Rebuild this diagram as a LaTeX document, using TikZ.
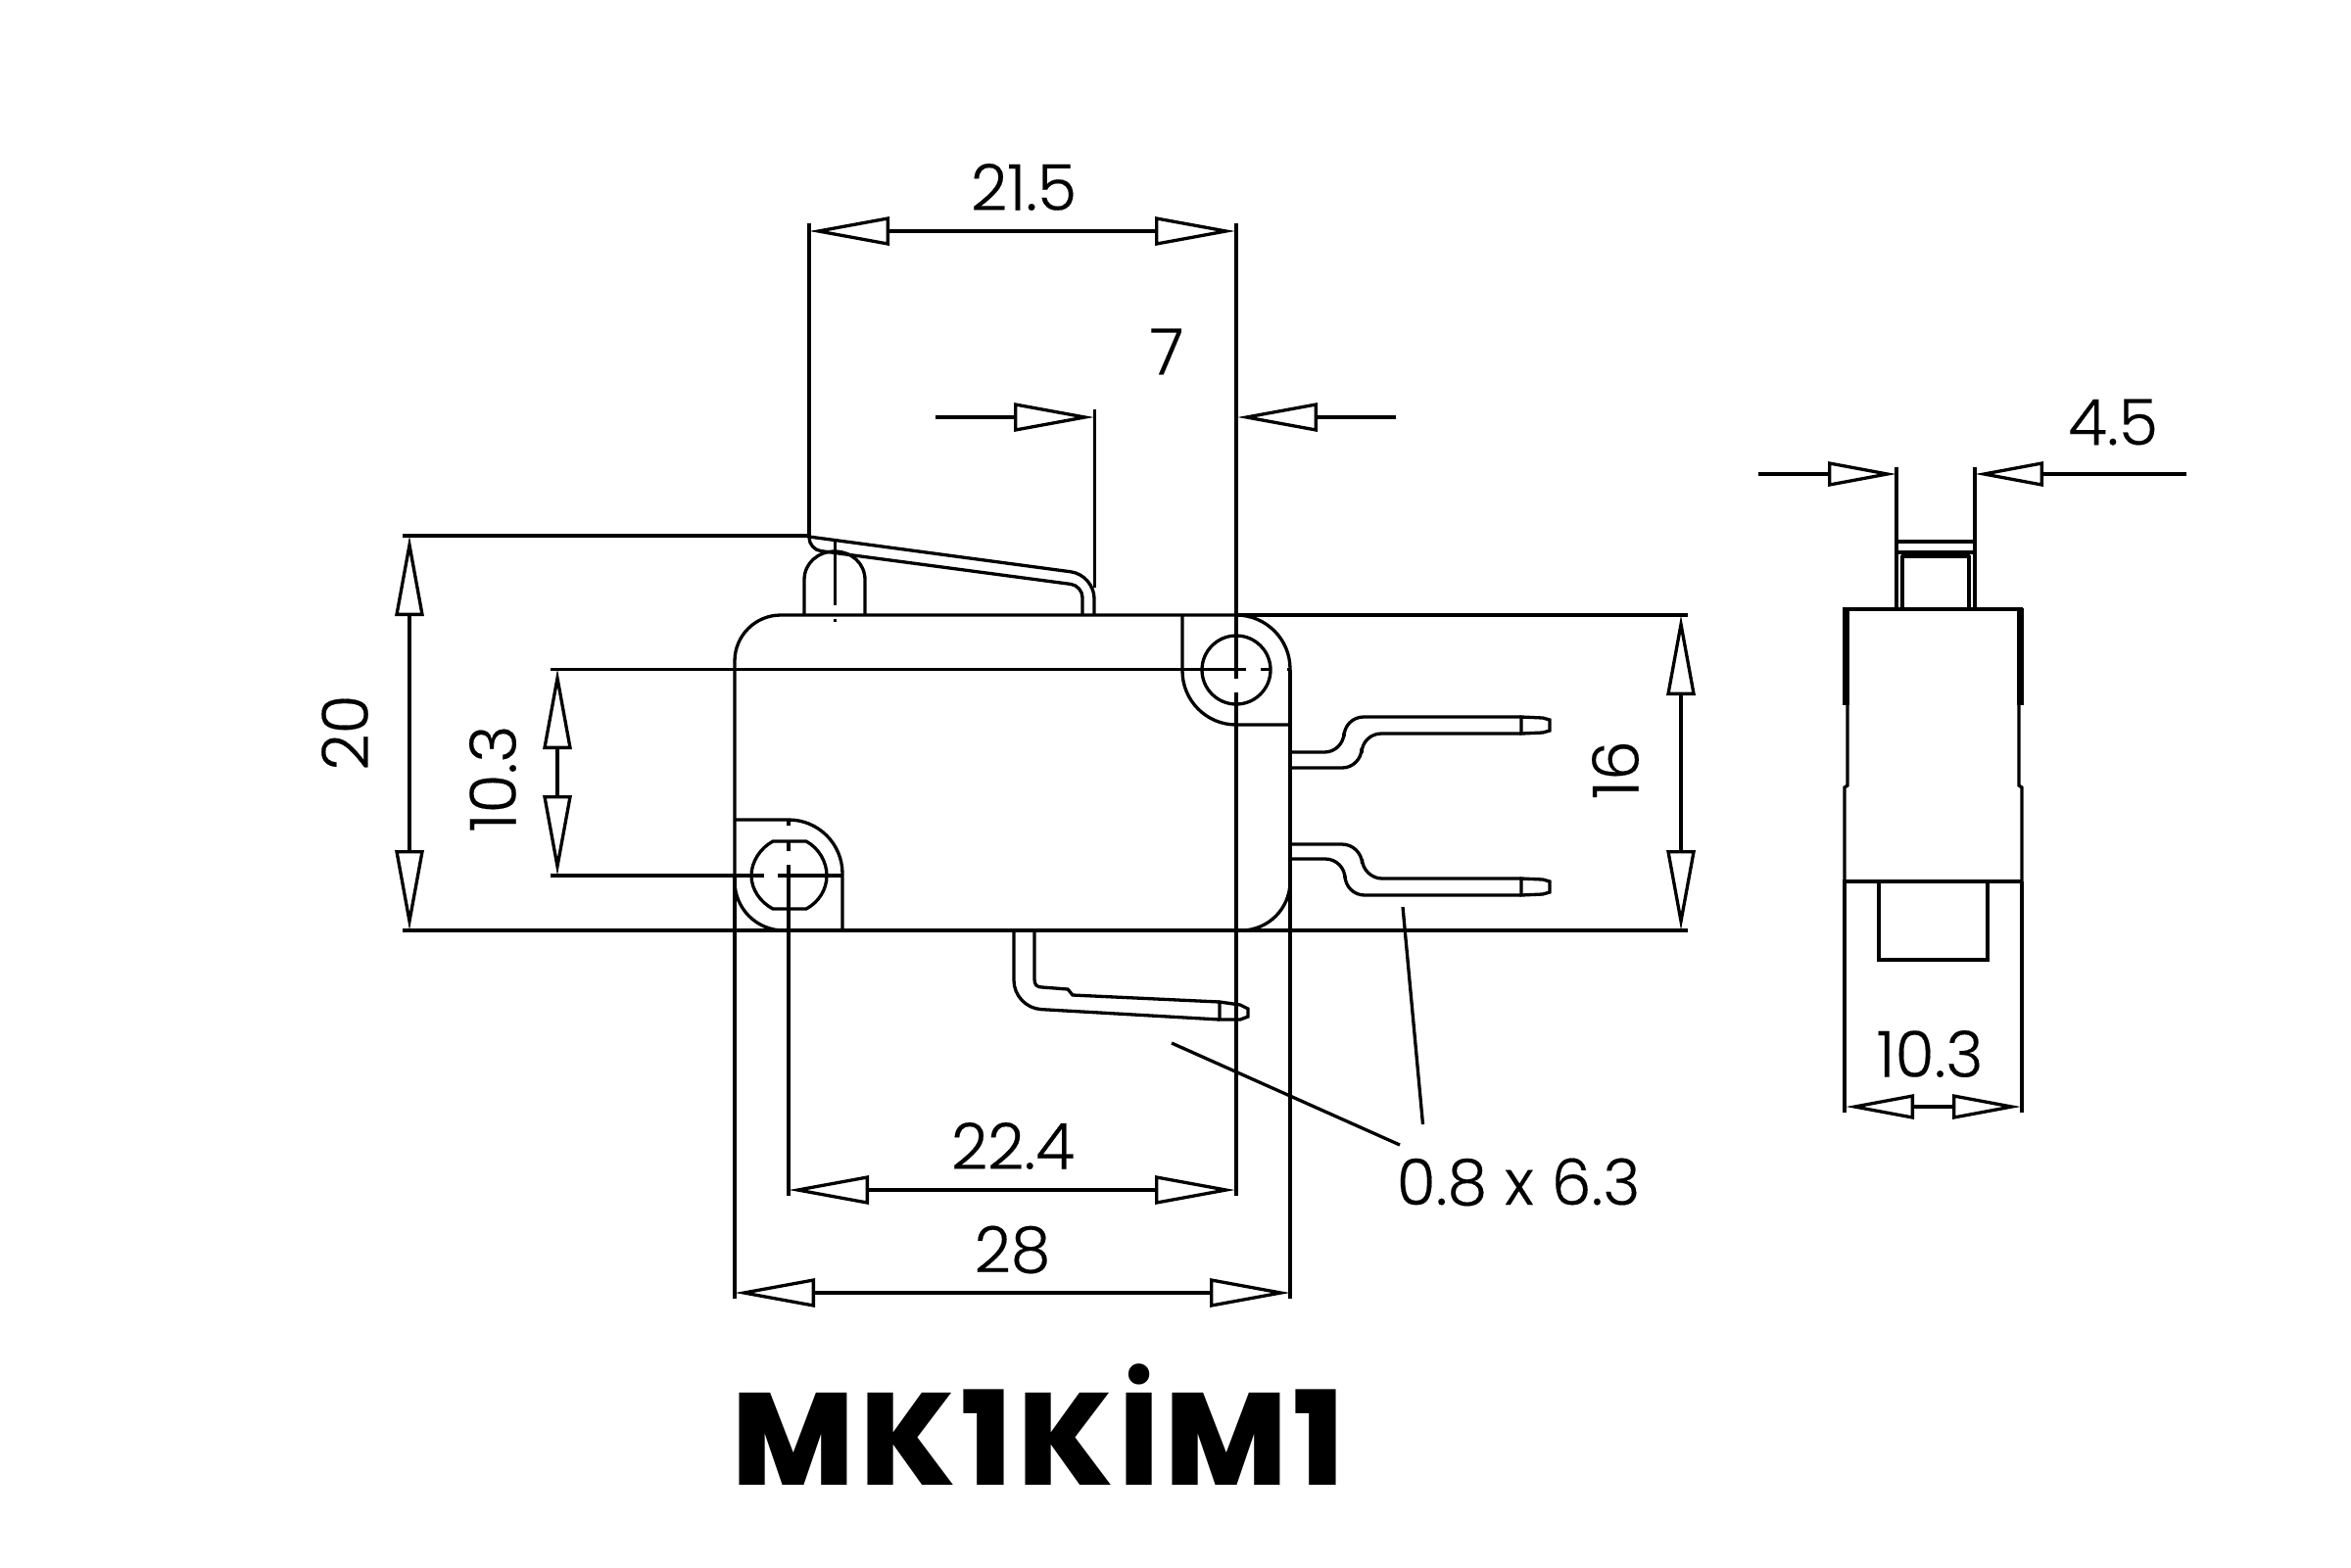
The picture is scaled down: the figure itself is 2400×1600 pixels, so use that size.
\documentclass[tikz,border=0pt]{standalone}
\usepackage{fontspec}
\usetikzlibrary{arrows.meta}
\newfontfamily\dimfont{Poppins Light}[FakeBold=0.25]
\newfontfamily\titlefont{Poppins}[BoldFont=* ExtraBold,LetterSpace=4.5]

\def \lineW {0.33mm}

\tikzset{
   dimtip/.tip={Triangle[open,length=8.2mm,width=2.9mm]},
   sidetip/.tip={Triangle[open,length=7mm,width=2.5mm]},
   part/.style={line width=\lineW,line join=miter},
   dimline/.style={line width=\lineW,{dimtip}-{dimtip}},
   sideline/.style={line width=\lineW,{sidetip}-{sidetip}},
   lefttip/.style={line width=\lineW,-{dimtip}},
   sidearrow/.style={line width=\lineW,-{sidetip}},
   helper/.style={line width=\lineW},
   dimlabel/.style={inner sep=0pt,font=\dimfont\fontsize{18.5pt}{20pt}\selectfont},
   title/.style={inner sep=0pt,anchor=base,font=\titlefont\bfseries\fontsize{38pt}{40pt}\selectfont}
}

\begin{document}
\begin{tikzpicture}[x=0.1mm,y=-0.1mm]
   \useasboundingbox (0,0) rectangle (2400,1600);

   % switch body, front view
   \draw[part] (750,800) [rounded corners=4.7mm] -- (750,628) [rounded corners=5.5mm] -- (1317,628) [rounded corners=5mm] -- (1317,950) [rounded corners=5mm] -- (750,950) [rounded corners=0pt] -- cycle;
   \draw[part,rounded corners=5.5mm] (1207,628) -- (1207,740) -- (1317,740);
   \draw[part,rounded corners=5.5mm] (750,837) -- (860,837) -- (860,950);
   \draw[part] (1262,684) circle (35);
   \draw[part] (789,859) -- (823,859) .. controls (836,866) and (844,880) .. (844,894) .. controls (844,908) and (836,921) .. (823,928) -- (789,928) .. controls (776,921) and (767,908) .. (767,894) .. controls (767,880) and (776,866) .. (789,859) -- cycle;

   % plunger and lever
   \draw[part] (821,628) -- (821,592) .. controls (821,575) and (835,563) .. (852,563) .. controls (869,563) and (883,575) .. (883,592) -- (883,628);
   \draw[part] (852.5,552) -- (852.5,618);
   \draw[part] (852.5,632) -- (852.5,635);
   \draw[part,rounded corners=2.4mm] (826,548) -- (1117,587) -- (1117,628);
   \draw[part,rounded corners=1.2mm] (826,548) -- (826,561) -- (1105,598) -- (1105,628);

   % terminals
   \draw[part,rounded corners=2mm] (1317,768) -- (1372,768) -- (1372,732) -- (1553,732);
   \draw[part,rounded corners=2mm] (1553,749) -- (1390,749) -- (1390,784) -- (1317,784);
   \draw[part] (1553,732) -- (1575,733) -- (1582,735) -- (1582,746) -- (1575,748) -- (1553,749) -- cycle;
   \draw[part,rounded corners=2mm] (1317,862) -- (1390,862) -- (1391,897) -- (1553,897);
   \draw[part,rounded corners=2mm] (1553,914) -- (1373,914) -- (1373,877) -- (1317,877);
   \draw[part] (1553,897) -- (1575,898) -- (1582,900) -- (1582,911) -- (1575,913) -- (1553,914) -- cycle;
   \draw[part,rounded corners=2.8mm] (1035,950) -- (1035,1029) -- (1245,1041);
   \draw[part] (1056,950) -- (1056,1000) .. controls (1056,1006) and (1059,1008) .. (1064,1008) -- (1090,1010) -- (1095,1016) -- (1245,1023);
   \draw[part] (1245,1023) -- (1266,1026) -- (1274,1030) -- (1274,1038) -- (1266,1041) -- (1245,1041) -- cycle;

   % switch body, side view
   \draw[part] (1883,900) -- (1883,804) -- (1886,802) -- (1886,720);
   \draw[part] (2064,900) -- (2064,804) -- (2061,802) -- (2061,720);
   \draw[part] (1881,622) -- (2065,622);
   \draw[part] (1881,900) -- (2065,900);
   \draw[line width=0.7mm] (1884.5,620.5) -- (1884.5,720);
   \draw[line width=0.7mm] (2062,620.5) -- (2062,720);
   \draw[part] (1918,900) -- (1918,980) -- (2029,980) -- (2029,900);
   \draw[part] (1936,553) rectangle (2016,564);
   \draw[part] (1936,564) -- (1936,622);
   \draw[part] (2016,564) -- (2016,622);
   \draw[part] (1942,567) -- (1942,622);
   \draw[part] (2010,567) -- (2010,622);
   \draw[line width=0.5mm] (1941,567) -- (2011,567);

   % extension lines
   \coordinate (leverTop) at (826,228);
   \coordinate (holeTop) at (1262,228);
   \coordinate (leverEnd) at (1117.5,418);
   \coordinate (leverLeft) at (411,547);
   \draw[helper] (leverTop) -- (826,548);
   \draw[helper] (holeTop) -- (1262,693);
   \draw[helper] (1262,707) -- (1262,1221);
   \draw[helper] (leverEnd) -- (1117.5,600);
   \draw[helper] (leverLeft) -- (826,547);
   \draw[helper] (562,683.5) -- (1272,683.5);
   \draw[helper] (1287,683.5) -- (1298,683.5);
   \draw[helper] (1314,683.5) -- (1317,683.5);
   \draw[helper] (562,894) -- (780,894);
   \draw[helper] (794,894) -- (860,894);
   \draw[helper] (805,838) -- (805,843);
   \draw[helper] (805,858) -- (805,869);
   \draw[helper] (805,883) -- (805,1221);
   \draw[helper] (411,950) -- (1723,950);
   \draw[helper] (1262,628) -- (1723,628);
   \draw[helper] (750,894) -- (750,1326);
   \draw[helper] (1317,684) -- (1317,1326);
   \draw[helper] (1936,477) -- (1936,553);
   \draw[helper] (2016,477) -- (2016,553);
   \draw[helper] (1883,900) -- (1883,1136);
   \draw[helper] (2064,900) -- (2064,1136);

   % dimensions
   \draw[dimline] (826,236) -- (1261,236);
   \draw[lefttip] (955,426) -- (1117,426);
   \draw[lefttip] (1425,426) -- (1263,426);
   \draw[dimline] (418,547) -- (418,950);
   \draw[dimline] (569,683) -- (569,894);
   \draw[dimline] (1716,628) -- (1716,950);
   \draw[dimline] (805,1215) -- (1261,1215);
   \draw[dimline] (750,1320) -- (1317,1320);
   \draw[sidearrow] (1795,484) -- (1936,484);
   \draw[sidearrow] (2232,484) -- (2016,484);
   \draw[sideline] (1884,1130) -- (2063,1130);

   % leaders
   \coordinate (pinA) at (1196,1065);
   \coordinate (pinB) at (1432,926);
   \coordinate (leadA) at (1429,1169);
   \coordinate (leadB) at (1452.5,1148);
   \draw[helper] (pinA) -- (leadA);
   \draw[helper] (pinB) -- (leadB);

   % labels
   \node[dimlabel] (labTop) at (1045,191) {21.5};
   \node[dimlabel] (labSeven) at (1191,359) {7};
   \node[dimlabel,rotate=90] (labTwenty) at (352,748) {20};
   \node[dimlabel,rotate=90] (labHole) at (503,795) {10.3};
   \node[dimlabel,rotate=90] (labBody) at (1649,786) {16};
   \node[dimlabel] (labPitch) at (1034,1170) {22.4};
   \node[dimlabel] (labLength) at (1033.5,1276) {28};
   \node[dimlabel] (labPin) at (1550,1207) {0.8 x 6.3};
   \node[dimlabel] (labLever) at (2157,431) {4.5};
   \node[dimlabel] (labWidth) at (1970,1076) {10.3};
   \node[title] (model) at (1060,1516) {MK1KİM1};
\end{tikzpicture}
\end{document}
